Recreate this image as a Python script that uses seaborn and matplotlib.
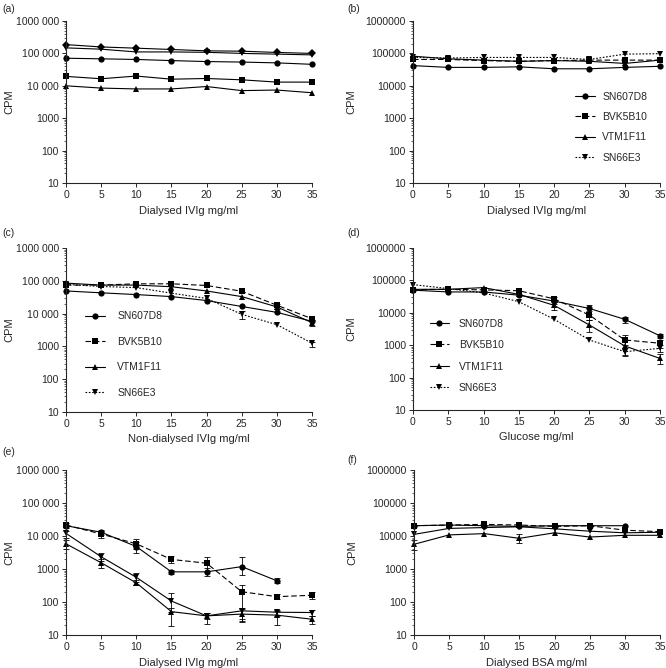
from matplotlib import pyplot as plt
from matplotlib.ticker import FixedLocator, FixedFormatter, LogLocator, NullFormatter
import seaborn as sns
import pandas as pd

conc = [0, 5, 10, 15, 20, 25, 30, 35]
names = ["SN607D8", "BVK5B10", "VTM1F11", "SN66E3"]

# panel (a): five clones, no legend
a_diamond = [187000, 158000, 145000, 132000, 120000, 117000, 107000, 100000]
a_down = [148000, 135000, 111000, 111000, 108000, 100000, 95000, 90000]
a_circle = [71000, 68000, 65000, 60000, 56000, 54000, 51000, 46000]
a_square = [19500, 16500, 20000, 16000, 16800, 15300, 13000, 13000]
a_triangle = [10000, 8500, 8000, 8000, 9500, 7100, 7400, 6100]

# panel (b)
b_sn607 = [42000, 37000, 37000, 38500, 33500, 33500, 37000, 40000]
b_bvk = [65000, 65000, 60000, 57000, 60000, 62000, 62000, 62000]
b_vtm = [82000, 68000, 62000, 57000, 60000, 57000, 49000, 62000]
b_sn66 = [75000, 72000, 75000, 75000, 75000, 65000, 95000, 98000]

# panel (c)
c_sn607 = [49000, 43000, 38000, 33000, 25000, 16500, 10900, 5800]
c_bvk = [74000, 74000, 81000, 81000, 72000, 48000, 18000, 7000]
c_vtm = [85000, 74000, 74000, 66000, 49000, 33000, 16000, 5300]
c_sn66 = [78000, 67000, 62000, 42000, 29000, 9500, 4600, 1250]

# panel (d)
d_sn607 = [50000, 44000, 44000, 35000, 23000, 13600, 6300, 1950]
d_bvk = [52000, 53000, 51000, 48000, 27000, 8500, 1450, 1150]
d_vtm = [53000, 53000, 60000, 37000, 17000, 4200, 950, 390]
d_sn66 = [74000, 56000, 41000, 22000, 6300, 1450, 630, 800]

# panel (e)
e_sn607 = [20500, 13000, 4800, 820, 820, 1180, 440, None]
e_bvk = [21500, 11500, 5800, 1950, 1500, 205, 145, 160]
e_vtm = [5800, 1550, 380, 51, 38, 43, 40, 30]
e_sn66 = [12000, 2350, 560, 107, 38, 54, 49, 48]

# panel (f)
f_sn607 = [20500, 21500, 20500, 19500, 20500, 20500, 20500, None]
f_bvk = [20500, 21500, 22500, 21500, 19500, 20500, 15000, 13500]
f_vtm = [5600, 10800, 11800, 8500, 12500, 9300, 10500, 10500]
f_sn66 = [11200, 17000, 18000, 19000, 16500, 14000, 12500, 13000]

# error bars as (concentration, low, high)
c_err = {"BVK5B10": [(30, 14000, 19000)],
         "VTM1F11": [(35, 4300, 6200)],
         "SN66E3": [(25, 7000, 12000), (35, 950, 1400)]}
d_err = {"SN607D8": [(25, 9500, 18000), (30, 5000, 7500), (35, 1700, 2200)],
         "BVK5B10": [(20, 21000, 30000), (25, 6000, 11000), (30, 1000, 2000), (35, 800, 1400)],
         "VTM1F11": [(20, 12000, 19000), (25, 2600, 5800), (30, 450, 1400), (35, 260, 550)],
         "SN66E3": [(30, 500, 800), (35, 600, 1000)]}
e_err = {"SN607D8": [(5, 11000, 15500), (10, 3000, 6500), (15, 700, 950), (20, 600, 1050),
                     (25, 650, 2300), (30, 370, 520)],
         "BVK5B10": [(0, 17000, 25000), (5, 8500, 14500), (10, 4000, 8000), (15, 1500, 2500),
                     (20, 900, 2300), (25, 25, 330), (30, 120, 170), (35, 120, 200)],
         "VTM1F11": [(0, 4000, 7500), (5, 1100, 2000), (10, 320, 450), (15, 19, 65),
                     (20, 22, 45), (25, 27, 60), (30, 20, 55), (35, 22, 38)],
         "SN66E3": [(0, 9000, 14000), (5, 1800, 3000), (10, 400, 750), (15, 50, 190),
                    (20, 30, 48), (25, 30, 65), (30, 38, 58), (35, 38, 58)]}
f_err = {"VTM1F11": [(0, 3800, 7500), (15, 6000, 11500)],
         "BVK5B10": [(5, 17000, 25000)]}

markers = {"SN607D8": "o", "BVK5B10": "s", "VTM1F11": "^", "SN66E3": "v", "extra": "D"}
styles = {"SN607D8": "-", "BVK5B10": (0, (5, 2.5)), "VTM1F11": "-", "SN66E3": (0, (1.5, 1.5))}

sns.set_style("ticks")
plt.rcParams['font.family'] = ['Liberation Sans', 'DejaVu Sans']

fig = plt.figure(figsize=(6.66, 6.68), dpi=100)
W, H = 666, 668


def make_axes(left, top, right, bottom):
    return fig.add_axes([left / W, 1 - bottom / H, (right - left) / W, (bottom - top) / H])


def draw(ax, series, errs=None, solid=()):
    for name, vals in series:
        df = pd.DataFrame({"x": conc, "y": vals}).dropna()
        ls = "-" if name in solid else styles.get(name, "-")
        sns.lineplot(data=df, x="x", y="y", ax=ax, color="black", linewidth=0.8,
                     linestyle=ls, marker=markers.get(name, "D"), markersize=4.5,
                     markeredgewidth=0, clip_on=False, label=name, legend=False)
        if errs and name in errs:
            for x, lo, hi in errs[name]:
                y = vals[conc.index(x)]
                ax.errorbar([x], [y], yerr=[[y - lo], [hi - y]], fmt="none", ecolor="black",
                            elinewidth=0.6, capsize=2, capthick=0.6, clip_on=False)


def style_axes(ax, xlabel, spaced, ylab_x):
    ax.set_yscale("log")
    ax.set_ylim(10, 1e6)
    ax.set_xlim(0, 35)
    ax.set_xticks(conc)
    ticks = [10, 100, 1000, 10000, 100000, 1000000]
    if spaced:
        labels = ["10", "100", "1000", "10 000", "100 000", "1000 000"]
    else:
        labels = ["10", "100", "1000", "10000", "100000", "1000000"]
    ax.yaxis.set_major_locator(FixedLocator(ticks))
    ax.yaxis.set_major_formatter(FixedFormatter(labels))
    ax.yaxis.set_minor_locator(LogLocator(base=10, subs=range(2, 10), numticks=20))
    ax.yaxis.set_minor_formatter(NullFormatter())
    ax.set_xlabel(xlabel, fontsize=8, labelpad=4)
    ax.set_ylabel("CPM", fontsize=8)
    ax.yaxis.set_label_coords(ylab_x, 0.5)
    ax.tick_params(axis="both", which="major", labelsize=7.5, length=3, width=0.7, pad=2)
    ax.tick_params(axis="y", which="minor", length=1.5, width=0.5)
    for side in ["top", "right"]:
        ax.spines[side].set_visible(False)
    for side in ["left", "bottom"]:
        ax.spines[side].set_linewidth(0.8)


def add_legend(ax, anchor, spacing, textpad=0.7):
    ax.legend(loc="upper left", bbox_to_anchor=anchor, frameon=False, fontsize=7.5,
              handlelength=1.9, labelspacing=spacing, handletextpad=textpad, borderaxespad=0)


ax_a = make_axes(66, 21, 312, 183)
draw(ax_a, [("extra", a_diamond), ("SN66E3", a_down), ("SN607D8", a_circle),
            ("BVK5B10", a_square), ("VTM1F11", a_triangle)], solid=names)
style_axes(ax_a, "Dialysed IVIg mg/ml", True, -0.21)

ax_b = make_axes(413, 21, 660, 183)
draw(ax_b, [("SN607D8", b_sn607), ("BVK5B10", b_bvk), ("VTM1F11", b_vtm), ("SN66E3", b_sn66)])
style_axes(ax_b, "Dialysed IVIg mg/ml", False, -0.23)
add_legend(ax_b, (0.64, 0.59), 1.0)

ax_c = make_axes(66, 248, 312, 412)
draw(ax_c, [("SN607D8", c_sn607), ("BVK5B10", c_bvk), ("VTM1F11", c_vtm), ("SN66E3", c_sn66)], c_err)
style_axes(ax_c, "Non-dialysed IVIg mg/ml", True, -0.21)
add_legend(ax_c, (0.06, 0.64), 1.5, 1.2)

ax_d = make_axes(413, 248, 660, 410)
draw(ax_d, [("SN607D8", d_sn607), ("BVK5B10", d_bvk), ("VTM1F11", d_vtm), ("SN66E3", d_sn66)], d_err)
style_axes(ax_d, "Glucose mg/ml", False, -0.23)
add_legend(ax_d, (0.05, 0.59), 1.1, 0.9)

ax_e = make_axes(66, 470, 312, 635)
draw(ax_e, [("SN607D8", e_sn607), ("BVK5B10", e_bvk), ("VTM1F11", e_vtm), ("SN66E3", e_sn66)],
     e_err, solid=["SN66E3"])
style_axes(ax_e, "Dialysed IVIg mg/ml", True, -0.21)

ax_f = make_axes(414, 470, 660, 635)
draw(ax_f, [("SN607D8", f_sn607), ("BVK5B10", f_bvk), ("VTM1F11", f_vtm), ("SN66E3", f_sn66)],
     f_err, solid=["SN66E3"])
style_axes(ax_f, "Dialysed BSA mg/ml", False, -0.23)

for label, x, y in [("(a)", 2, 9), ("(b)", 347, 9), ("(c)", 2, 233),
                    ("(d)", 347, 233), ("(e)", 2, 452), ("(f)", 347, 460)]:
    fig.text(x / W, 1 - y / H, label, fontsize=7.5, va="center", ha="left")

fig.savefig("out.png", dpi=100)
